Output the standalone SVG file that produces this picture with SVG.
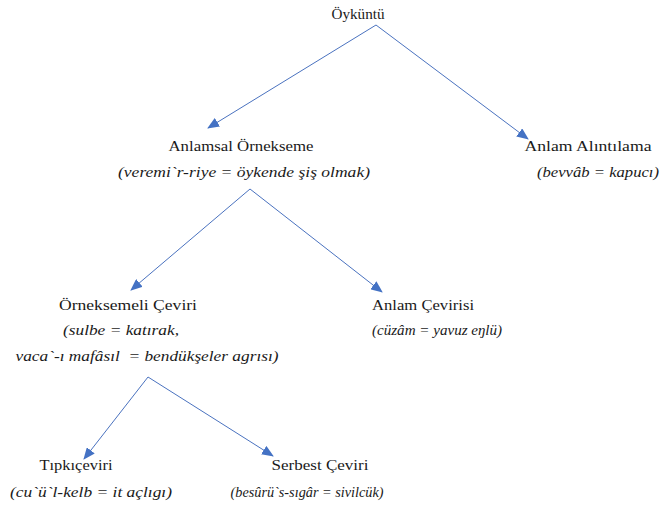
<svg xmlns="http://www.w3.org/2000/svg" width="665" height="508" viewBox="0 0 665 508">
<style>
text{font-family:"Times New Roman",Times,"Liberation Serif",Tinos,"DejaVu Serif",serif;font-size:15px;fill:#1a1a1a;white-space:pre}
.t{text-anchor:middle}
.i{font-style:italic}
.c{stroke:#4a72bf;stroke-width:1;fill:none}
</style>
<defs>
<marker id="ah" markerUnits="userSpaceOnUse" markerWidth="12" markerHeight="10" refX="11" refY="5" orient="auto">
<path d="M0,0 L12,5 L0,10 Z" fill="#4472c4"/>
</marker>
</defs>
<rect width="665" height="508" fill="#fff"/>
<g id="connectors">
<line class="c" x1="376" y1="25" x2="208" y2="128" marker-end="url(#ah)"/>
<line class="c" x1="376" y1="25" x2="528" y2="139" marker-end="url(#ah)"/>
<line class="c" x1="250" y1="189" x2="131" y2="290" marker-end="url(#ah)"/>
<line class="c" x1="250" y1="189" x2="382" y2="292" marker-end="url(#ah)"/>
<line class="c" x1="148" y1="377" x2="84" y2="459" marker-end="url(#ah)"/>
<line class="c" x1="148" y1="377" x2="273" y2="456" marker-end="url(#ah)"/>
</g>
<g id="n-oykuntu"><text class="t" x="358" y="19" textLength="53" lengthAdjust="spacingAndGlyphs">Öyküntü</text></g>
<g id="n-anlamsal">
<text class="t" x="241" y="151" textLength="145" lengthAdjust="spacingAndGlyphs">Anlamsal Örnekseme</text>
<text class="t i" x="244" y="177" textLength="252" lengthAdjust="spacingAndGlyphs">(veremi`r-riye = öykende şiş olmak)</text>
</g>
<g id="n-alintilama">
<text class="t" x="588" y="151" textLength="127" lengthAdjust="spacingAndGlyphs">Anlam Alıntılama</text>
<text class="t i" x="598" y="177" textLength="122" lengthAdjust="spacingAndGlyphs">(bevvâb = kapucı)</text>
</g>
<g id="n-ornekseme">
<text class="t" x="128" y="310" textLength="138" lengthAdjust="spacingAndGlyphs">Örneksemeli Çeviri</text>
<text class="t i" x="121" y="335" textLength="116" lengthAdjust="spacingAndGlyphs">(sulbe = katırak,</text>
<text class="t i" x="147" y="361" textLength="263" lengthAdjust="spacingAndGlyphs">vaca`-ı mafâsıl  = bendükşeler agrısı)</text>
</g>
<g id="n-cevirisi">
<text class="t" x="423" y="310" textLength="102" lengthAdjust="spacingAndGlyphs">Anlam Çevirisi</text>
<text class="t i" x="437" y="335" textLength="130" lengthAdjust="spacingAndGlyphs">(cüzâm = yavuz eŋlü)</text>
</g>
<g id="n-tipki">
<text class="t" x="76" y="470" textLength="73" lengthAdjust="spacingAndGlyphs">Tıpkıçeviri</text>
<text class="t i" x="91" y="497" textLength="162" lengthAdjust="spacingAndGlyphs">(cu`ü`l-kelb = it açlıgı)</text>
</g>
<g id="n-serbest">
<text class="t" x="320" y="470" textLength="97" lengthAdjust="spacingAndGlyphs">Serbest Çeviri</text>
<text class="t i" x="307" y="497" textLength="153" lengthAdjust="spacingAndGlyphs">(besûrü`s-sıgâr = sivilcük)</text>
</g>
</svg>
